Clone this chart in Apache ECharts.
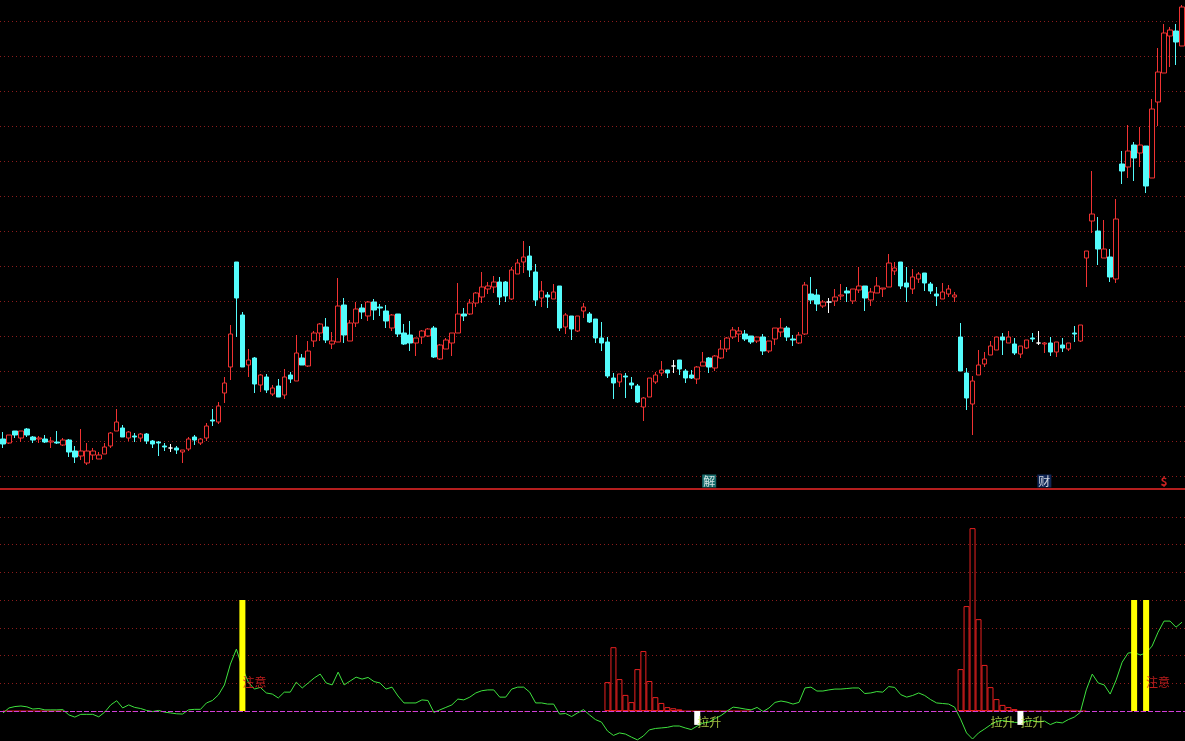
<!DOCTYPE html>
<html><head><meta charset="utf-8">
<script src="https://cdn.jsdelivr.net/npm/echarts@6/dist/echarts.min.js"></script>
<style>html,body{margin:0;padding:0;background:#000;overflow:hidden}#c{width:1185px;height:741px;}</style>
</head><body><div id="c"></div>
<script>
// [open, close, low, high]
const candles = [
[5.62,5.57,5.53,5.69],[5.58,5.66,5.57,5.66],[5.70,5.66,5.63,5.70],[5.63,5.70,5.59,5.70],[5.72,5.66,5.64,5.73],
[5.64,5.61,5.58,5.65],[5.62,5.63,5.58,5.65],[5.62,5.59,5.58,5.66],[5.59,5.60,5.53,5.64],[5.59,5.58,5.57,5.70],
[5.56,5.61,5.55,5.63],[5.61,5.49,5.44,5.62],[5.50,5.44,5.38,5.55],[5.45,5.50,5.41,5.72],[5.38,5.50,5.36,5.58],
[5.46,5.50,5.41,5.53],[5.42,5.46,5.42,5.49],[5.47,5.54,5.47,5.58],[5.55,5.68,5.53,5.69],[5.70,5.79,5.70,5.92],
[5.73,5.64,5.64,5.76],[5.63,5.69,5.60,5.70],[5.65,5.64,5.59,5.68],[5.63,5.67,5.59,5.68],[5.67,5.60,5.57,5.68],
[5.60,5.57,5.53,5.61],[5.59,5.58,5.45,5.60],[5.55,5.54,5.50,5.58],[5.53,5.53,5.49,5.57],[5.53,5.51,5.47,5.55],
[5.49,5.51,5.38,5.51],[5.52,5.62,5.50,5.64],[5.64,5.61,5.56,5.66],[5.58,5.62,5.56,5.63],[5.63,5.75,5.60,5.78],
[5.81,5.80,5.75,5.92],[5.79,5.95,5.77,5.99],[6.08,6.18,5.98,6.24],[6.34,6.67,6.21,6.76],[7.39,7.03,6.64,7.39],
[6.86,6.34,6.34,6.89],[6.36,6.41,6.24,6.52],[6.43,6.17,6.08,6.44],[6.16,6.26,6.09,6.27],[6.24,6.11,6.08,6.27],
[6.07,6.13,6.05,6.16],[6.15,6.04,6.04,6.22],[6.06,6.24,6.02,6.32],[6.26,6.22,6.18,6.29],[6.20,6.48,6.20,6.66],
[6.43,6.36,6.36,6.47],[6.35,6.50,6.34,6.60],[6.60,6.68,6.54,6.70],[6.68,6.77,6.60,6.78],[6.74,6.61,6.58,6.83],
[6.57,6.60,6.52,6.69],[6.59,6.95,6.59,7.23],[6.96,6.66,6.58,7.03],[6.60,6.78,6.60,6.81],[6.78,6.92,6.74,6.99],
[6.93,6.89,6.82,6.97],[6.85,6.99,6.80,7.00],[6.99,6.91,6.81,7.02],[6.94,6.93,6.85,6.97],[6.90,6.80,6.73,6.96],
[6.73,6.86,6.70,6.87],[6.87,6.67,6.64,6.87],[6.68,6.57,6.56,6.77],[6.66,6.58,6.50,6.80],[6.58,6.63,6.45,6.63],
[6.64,6.70,6.57,6.71],[6.65,6.72,6.64,6.73],[6.73,6.44,6.43,6.75],[6.42,6.56,6.41,6.57],[6.52,6.61,6.52,6.63],
[6.58,6.68,6.45,6.68],[6.68,6.87,6.68,7.18],[6.87,6.85,6.80,6.93],[6.87,6.98,6.86,7.02],[6.98,7.08,6.94,7.09],
[7.04,7.14,6.98,7.29],[7.12,7.15,7.07,7.19],[7.14,7.19,7.08,7.25],[7.19,7.04,6.96,7.24],[7.19,7.05,6.99,7.20],
[7.02,7.31,7.01,7.34],[7.27,7.38,7.27,7.42],[7.39,7.44,7.28,7.60],[7.45,7.31,7.24,7.55],[7.29,7.01,6.95,7.37],
[7.03,7.10,6.94,7.20],[7.06,7.04,6.93,7.09],[7.02,7.09,7.02,7.17],[7.15,6.73,6.70,7.15],[6.74,6.86,6.67,6.88],
[6.85,6.72,6.61,6.85],[6.70,6.85,6.69,6.85],[6.90,6.94,6.83,6.98],[6.87,6.79,6.78,6.89],[6.82,6.63,6.58,6.82],
[6.63,6.58,6.50,6.79],[6.59,6.25,6.23,6.64],[6.23,6.18,6.02,6.28],[6.19,6.27,6.14,6.27],[6.25,6.24,6.03,6.28],
[6.18,6.16,6.12,6.24],[6.15,5.99,5.98,6.17],[5.94,6.03,5.80,6.04],[6.04,6.23,6.04,6.23],[6.19,6.26,6.17,6.29],
[6.28,6.31,6.25,6.40],[6.31,6.28,6.23,6.31],[6.35,6.35,6.28,6.41],[6.41,6.32,6.26,6.41],[6.30,6.23,6.18,6.32],
[6.26,6.23,6.22,6.31],[6.22,6.34,6.17,6.35],[6.35,6.39,6.35,6.49],[6.43,6.34,6.28,6.44],[6.33,6.45,6.30,6.46],
[6.43,6.52,6.42,6.61],[6.52,6.63,6.49,6.64],[6.64,6.71,6.62,6.74],[6.67,6.70,6.59,6.74],[6.67,6.62,6.60,6.71],
[6.65,6.59,6.57,6.65],[6.60,6.64,6.58,6.64],[6.64,6.50,6.46,6.67],[6.50,6.60,6.48,6.60],[6.62,6.73,6.56,6.73],
[6.69,6.73,6.64,6.83],[6.73,6.64,6.60,6.75],[6.62,6.61,6.55,6.66],[6.58,6.66,6.57,6.69],[6.67,7.16,6.66,7.19],
[7.07,7.01,6.97,7.24],[7.06,6.97,6.90,7.12],[6.95,6.99,6.93,7.01],[6.99,6.99,6.88,7.03],[7.00,7.04,6.95,7.12],
[7.05,7.06,7.01,7.17],[7.10,7.08,6.99,7.14],[7.00,7.12,6.97,7.12],[7.11,7.15,7.08,7.34],[7.15,7.03,6.90,7.15],
[7.01,7.09,6.95,7.13],[7.08,7.15,7.08,7.24],[7.12,7.13,7.04,7.13],[7.14,7.38,7.14,7.47],[7.30,7.33,7.26,7.39],
[7.39,7.15,7.12,7.39],[7.18,7.14,6.99,7.34],[7.12,7.24,7.07,7.32],[7.22,7.27,7.18,7.29],[7.28,7.18,7.10,7.28],
[7.17,7.10,7.07,7.19],[7.07,7.05,6.95,7.14],[7.02,7.09,7.02,7.18],[7.07,7.12,7.04,7.16],[7.04,7.06,6.99,7.09],
[6.64,6.30,6.30,6.78],[6.28,6.03,5.91,6.33],[5.97,6.20,5.66,6.25],[6.26,6.36,6.26,6.51],[6.37,6.42,6.34,6.49],
[6.46,6.55,6.46,6.60],[6.51,6.64,6.51,6.64],[6.64,6.61,6.46,6.68],[6.58,6.64,6.58,6.70],[6.57,6.48,6.46,6.63],
[6.47,6.55,6.43,6.55],[6.53,6.61,6.52,6.61],[6.63,6.62,6.59,6.68],[6.58,6.58,6.56,6.70],[6.57,6.58,6.48,6.59],
[6.58,6.49,6.45,6.64],[6.49,6.59,6.44,6.59],[6.56,6.53,6.49,6.63],[6.52,6.58,6.50,6.58],[6.68,6.67,6.59,6.75],
[6.60,6.76,6.59,6.76],[7.43,7.50,7.14,7.50],[7.80,7.87,7.68,8.30],[7.70,7.52,7.36,7.84],[7.43,7.52,7.43,7.81],
[7.44,7.24,7.19,7.52],[7.22,7.82,7.18,8.02],[8.37,8.30,8.17,8.50],[8.34,8.50,8.23,8.76],[8.56,8.43,8.20,8.59],
[8.48,8.56,8.34,8.74],[8.55,8.15,8.08,8.55],[8.23,8.92,8.23,9.02],[8.99,9.29,8.75,9.53],[9.28,9.68,9.28,9.77],
[9.65,9.71,9.34,9.74],[9.70,9.59,9.36,9.77],[9.55,9.94,9.55,9.96]
];
const oscLine = [
-0.7,1.1,1.6,1.8,1.5,0.7,0.9,0.4,0.4,0.4,
0.5,-1.4,-2.2,-1.2,-1.2,-1.2,-2.1,-0.4,2.2,3.7,
1.1,2.2,1.3,0.9,0.2,-0.2,0.2,-0.4,-0.7,-1.0,
-1.1,0.4,0.6,0.6,2.9,3.8,5.8,9.4,16.9,22.3,
15.5,10.4,7.9,8.5,6.5,6.1,4.7,6.8,6.8,10.4,
8.3,10.1,11.9,13.3,10.1,9.4,14.0,9.4,10.8,12.2,
11.5,12.1,10.6,10.1,7.9,8.6,5.4,2.9,2.9,2.9,
4.0,3.8,-0.5,0.4,1.3,2.2,4.3,4.0,5.0,6.5,
7.3,7.6,7.6,5.0,5.0,7.9,8.6,8.6,6.8,2.9,
2.9,2.5,2.5,-1.1,-0.9,-2.0,-0.7,0.5,-1.4,-3.1,
-4.0,-7.2,-8.8,-7.9,-8.3,-9.4,-10.4,-9.0,-6.8,-6.3,
-6.1,-5.9,-5.4,-5.4,-6.1,-6.7,-5.4,-4.3,-4.0,-2.7,
-1.6,0,1.4,1.1,0.7,0.4,1.3,-0.2,1.1,3.1,
3.6,3.2,2.5,3.1,8.3,8.6,7.2,7.2,7.6,7.9,
7.9,8.1,8.3,8.3,6.3,6.5,7.0,6.8,8.8,8.5,
5.9,5.0,5.6,6.5,5.6,4.1,2.9,2.7,2.5,1.4,
-2.9,-7.9,-10.1,-7.9,-6.5,-5.0,-3.8,-3.4,-3.8,-4.1,
-4.1,-3.8,-3.4,-4.0,-3.6,-4.9,-4.0,-4.3,-3.1,-2.2,
-0.5,7.6,13.3,10.1,9.4,6.1,11.2,17.6,20.9,21.1,
20.2,20.9,23.4,28.4,32.4,32.4,30.2,32.0
];
const histStartA = 101;
const histA = [10.4,23.0,11.5,5.8,3.2,15.1,21.6,10.8,5.0,2.9,1.4,1.0,0.6];
const histStartB = 160;
const histB = [15.1,37.8,65.9,33.1,16.6,8.6,4.3,2.2,1.4,0.7];
const zeroRanges = [[0,10],[101,125],[160,181]];
const warnIdx = [40,189,191];
const warnValue = 40;
const liftIdx = [116,170];
const liftValue = -5;
const noteIdx = [40,191];
const noteValue = 10.3;
const liftTextIdx = [116,165,170];
const liftTextValue = -4.3;
const topMarks = [[118,5.20,'解','#1f8a8a','#ffffff'],[174,5.20,'财','#13306a','#ffffff'],[194,5.20,'$',null,'#ff2a2a']];

const N = candles.length;
const cats = candles.map((_, i) => String(i + 1));
const hist = new Array(N).fill(null);
histA.forEach((v, i) => { hist[histStartA + i] = v; });
histB.forEach((v, i) => { hist[histStartB + i] = v; });
const zeroLine = new Array(N).fill(null);
zeroRanges.forEach(([a, b]) => { for (let i = a; i <= b; i++) zeroLine[i] = 0; });
const warnBars = new Array(N).fill(null);
warnIdx.forEach(i => { warnBars[i] = warnValue; });
const liftBars = new Array(N).fill(null);
liftIdx.forEach(i => { liftBars[i] = liftValue; });

const FONT = '"Noto Sans CJK SC", "Noto Sans", sans-serif';
const split = { show: true, lineStyle: { color: '#8c1c1c', type: [1, 3], width: 1 } };

const chart = echarts.init(document.getElementById('c'), null, { renderer: 'canvas' });
chart.setOption({
  backgroundColor: '#000000',
  animation: false,
  grid: [
    { left: -0.5, width: 1188, top: 21, height: 455 },
    { left: -0.5, width: 1188, top: 489, height: 222 }
  ],
  xAxis: [
    { type: 'category', gridIndex: 0, data: cats, boundaryGap: true, axisLine: { show: false }, axisTick: { show: false }, axisLabel: { show: false }, splitLine: { show: false } },
    { type: 'category', gridIndex: 1, data: cats, boundaryGap: true, position: 'top',
      axisLine: { show: true, onZero: false, lineStyle: { color: '#b41e1e', width: 2 } },
      axisTick: { show: false }, axisLabel: { show: false }, splitLine: { show: false } }
  ],
  yAxis: [
    { type: 'value', gridIndex: 0, min: 5.25, max: 9.80, interval: 0.35, axisLine: { show: false }, axisTick: { show: false }, axisLabel: { show: false }, splitLine: split },
    { type: 'value', gridIndex: 1, min: 0, max: 80, interval: 10, axisLine: { show: false }, axisTick: { show: false }, axisLabel: { show: false }, splitLine: split }
  ],
  series: [
    {
      type: 'candlestick', xAxisIndex: 0, yAxisIndex: 0, data: candles, barWidth: 5, clip: false,
      itemStyle: { color: '#000000', color0: '#54fcfc', borderColor: '#f03232', borderColor0: '#54fcfc', borderColorDoji: '#ffffff', borderWidth: 1 }
    },
    {
      type: 'scatter', xAxisIndex: 0, yAxisIndex: 0, symbolSize: 1, clip: false,
      itemStyle: { color: 'rgba(0,0,0,0)' },
      data: topMarks.map(([k, v, t, bg, fg]) => ({
        value: [k, v],
        label: { show: true, position: 'inside', formatter: t, color: fg, fontSize: 12, fontFamily: FONT,
          backgroundColor: bg || 'transparent', padding: [1, 1, 0, 1], fontWeight: t === '$' ? 'bold' : 'normal' }
      }))
    },
    {
      type: 'bar', xAxisIndex: 1, yAxisIndex: 1, data: hist, stack: 'v', barWidth: 6, clip: false, z: 3,
      itemStyle: { color: 'rgba(0,0,0,0)', borderColor: '#e82020', borderWidth: 1 },
      markLine: { silent: true, symbol: ['none', 'none'], label: { show: false }, data: [{ yAxis: 0 }],
        lineStyle: { color: '#d040d8', type: [5, 2], width: 1 } }
    },
    {
      type: 'bar', xAxisIndex: 1, yAxisIndex: 1, data: warnBars, stack: 'v', barWidth: 6, clip: false, z: 5,
      itemStyle: { color: '#ffff00' }
    },
    {
      type: 'bar', xAxisIndex: 1, yAxisIndex: 1, data: liftBars, stack: 'v', barWidth: 6, clip: false, z: 5,
      itemStyle: { color: '#ffffff' }
    },
    {
      type: 'line', xAxisIndex: 1, yAxisIndex: 1, data: zeroLine, symbol: 'none', clip: false, z: 4,
      lineStyle: { color: '#e82020', width: 1 }
    },
    {
      type: 'line', xAxisIndex: 1, yAxisIndex: 1, data: oscLine, symbol: 'none', clip: false, z: 4,
      lineStyle: { color: '#3ee23e', width: 1 }
    },
    {
      type: 'scatter', xAxisIndex: 1, yAxisIndex: 1, symbolSize: 1, clip: false, z: 6,
      itemStyle: { color: 'rgba(0,0,0,0)' },
      data: noteIdx.map(k => ({ value: [k, noteValue], label: { show: true, position: 'inside', align: 'left', verticalAlign: 'middle', formatter: '注意', color: '#ec2424', fontSize: 12, fontFamily: FONT } }))
        .concat(liftTextIdx.map(k => ({ value: [k, liftTextValue], label: { show: true, position: 'inside', align: 'left', verticalAlign: 'middle', formatter: '拉升', color: '#c8ec50', fontSize: 12, fontFamily: FONT } })))
    }
  ]
});
</script>
</body></html>
